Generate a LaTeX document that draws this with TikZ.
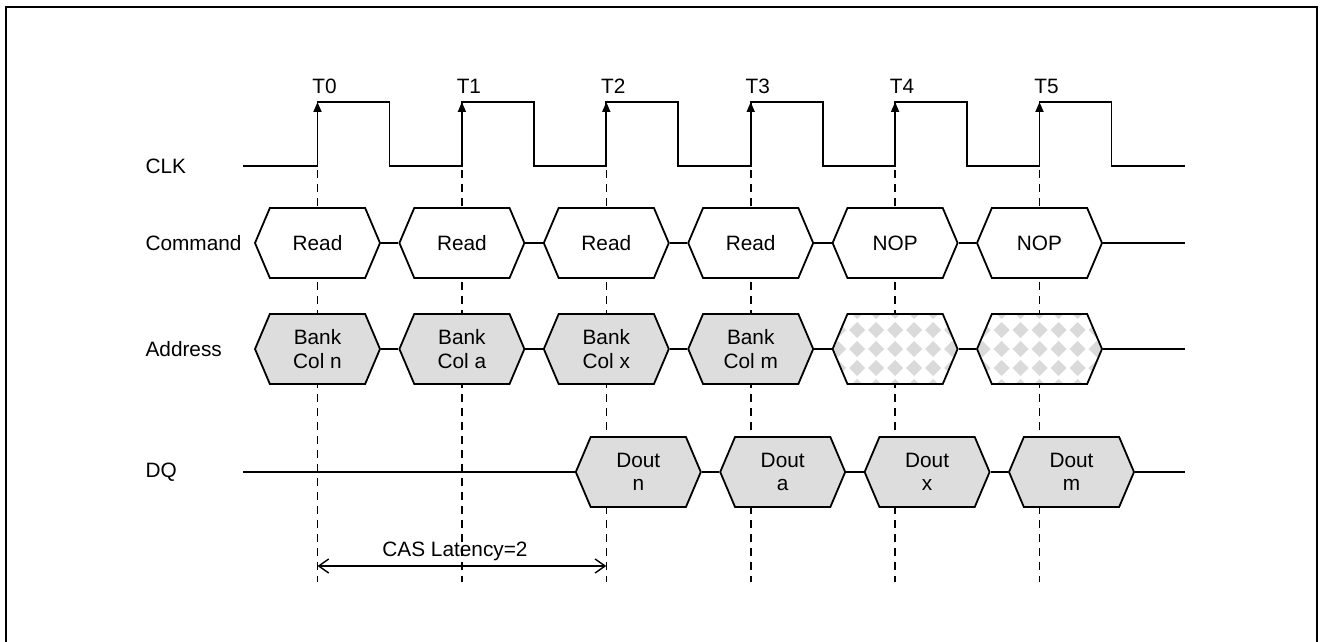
\documentclass[tikz,border=0pt]{standalone}
\usepackage{fontspec}
\setmainfont{Liberation Sans}
\usetikzlibrary{arrows.meta,positioning,calc,shapes.symbols}
\definecolor{busgray}{RGB}{221,221,221}
\definecolor{dotgray}{RGB}{218,218,218}

\begin{document}
\begin{tikzpicture}[x=0.5pt,y=-0.5pt,line width=0.9pt,
  font=\fontsize{10.4pt}{11.8pt}\selectfont,
  bus/.style={signal,signal to=east and west,signal pointer angle=134,draw,fill=white,
    minimum width=62.5pt,minimum height=35pt,inner sep=1pt,align=center},
  busgrey/.style={bus,fill=busgray},
  nopbus/.style={bus,path picture={
    \foreach \dx in {-76,-57,...,76} \foreach \dy in {-38,-19,...,38}
      \fill[dotgray] ($(path picture bounding box.center)+(\dx,\dy)$)
        ++(-8,0) -- ++(8,-8) -- ++(8,8) -- ++(-8,8) -- cycle;}},
  tick/.style={dash pattern=on 4pt off 3pt,line width=0.8pt},
  edgearrow/.style={-{Triangle[length=5pt,width=4pt]}}]
  \useasboundingbox (0,0) rectangle (1324,642);
  \draw[line width=1.2pt] (6,660) |- (1317,7) -- (1317,660);
  \def\T{144.4} \def\Tz{317.5}
  % clock edges and grid lines
  \foreach \i in {0,...,5} {
    \coordinate (e\i) at ({\Tz+\T*\i},102);
    \draw[tick] ($(e\i)+(0,68)$) -- ($(e\i)+(0,480)$);
    \node (t\i) at ($(e\i)+(7,-16)$) {T\i};
  }
  \draw (243,166) \foreach \i in {0,...,5} {
      -- ({\Tz+\T*\i},166) -- ({\Tz+\T*\i},102) -- ({\Tz+\T*\i+72},102) -- ({\Tz+\T*\i+72},166)}
    -- (1185,166);
  \foreach \i in {0,...,5} \draw[edgearrow] ($(e\i)+(0,64)$) -- (e\i);
  % row labels
  \node[anchor=west] (clk) at (138,166) {CLK};
  \node[anchor=west] (cmd) at (138,243) {Command};
  \node[anchor=west] (adr) at (138,349) {Address};
  \node[anchor=west] (dq) at (138,472) {DQ};
  % command bus
  \foreach \c [count=\i from 0] in {Read,Read,Read,Read,NOP,NOP}
    \node[bus] (cmd\i) at ({\Tz+\T*\i},243) {\c};
  \foreach \i [evaluate=\i as \j using int(\i+1)] in {0,...,4}
    \draw (cmd\i.east) -- (cmd\j.west);
  \coordinate (cmdend) at (1185,243);
  \draw (cmd5.east) -- (cmdend);
  % address bus
  \foreach \a [count=\i from 0] in {n,a,x,m}
    \node[busgrey] (adr\i) at ({\Tz+\T*\i},349) {Bank\\Col \a};
  \foreach \i in {4,5}
    \node[nopbus] (adr\i) at ({\Tz+\T*\i},349) {};
  \foreach \i [evaluate=\i as \j using int(\i+1)] in {0,...,4}
    \draw (adr\i.east) -- (adr\j.west);
  \coordinate (adrend) at (1185,349);
  \draw (adr5.east) -- (adrend);
  % data bus
  \foreach \d [count=\i from 2] in {n,a,x,m}
    \node[busgrey] (dq\i) at ({\Tz+\T*\i+32},472) {Dout\\\d};
  \foreach \i [evaluate=\i as \j using int(\i+1)] in {2,...,4}
    \draw (dq\i.east) -- (dq\j.west);
  \coordinate (dqstart) at (243,472);
  \coordinate (dqend) at (1185,472);
  \draw (dqstart) -- (dq2.west);
  \draw (dq5.east) -- (dqend);
  % latency
  \coordinate (cas0) at ({\Tz},566);
  \coordinate (cas2) at ({\Tz+2*\T},566);
  \draw[{Straight Barb[length=5pt,width=7pt]}-{Straight Barb[length=5pt,width=7pt]},line width=0.7pt]
    (cas0) -- (cas2);
  \node (caslabel) at (455,551) {CAS Latency=2};
\end{tikzpicture}
\end{document}
